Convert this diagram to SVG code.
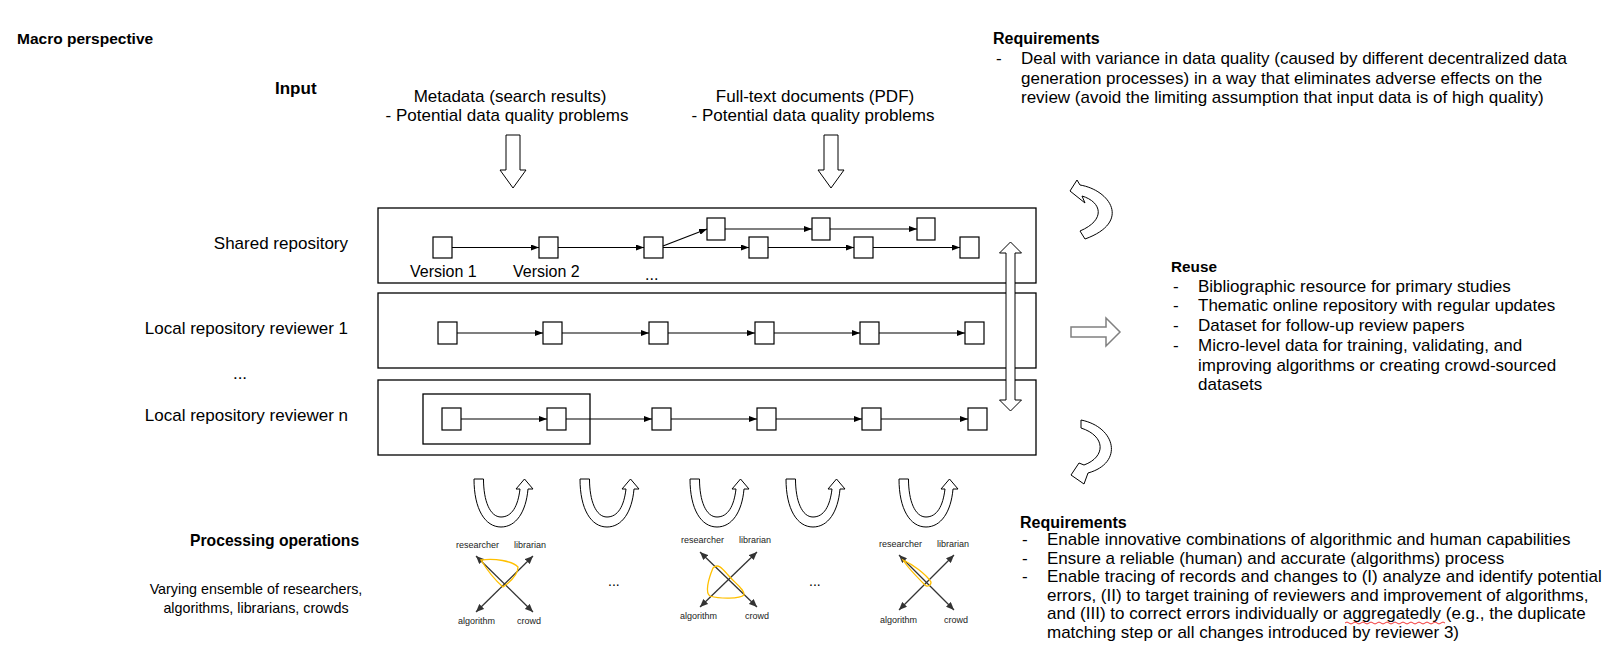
<svg xmlns="http://www.w3.org/2000/svg" xmlns:xlink="http://www.w3.org/1999/xlink" width="1620" height="657" viewBox="0 0 1620 657">
<style>
.t{font-family:"Liberation Sans",Arial,sans-serif;font-size:17px;fill:#000}
.b{font-weight:bold}
.s{font-family:"Liberation Sans",Arial,sans-serif;font-size:9px;fill:#222}
.box{fill:#fff;stroke:#000;stroke-width:1.3}
.node{fill:#fff;stroke:#000;stroke-width:1.2}
.blk{fill:#fff;stroke:#000;stroke-width:1}
.conn{stroke:#000;stroke-width:1.2;fill:none;marker-end:url(#ah)}
.x{stroke:#333;stroke-width:1.3;fill:none;marker-start:url(#xh);marker-end:url(#xh)}
.y{fill:none;stroke:#FFC000;stroke-width:1.3}
</style>
<defs>
<marker id="ah" markerUnits="userSpaceOnUse" markerWidth="8" markerHeight="6" refX="8" refY="3" orient="auto"><path d="M0,0 L8,3 L0,6 z" fill="#000"/></marker>
<marker id="xh" markerUnits="userSpaceOnUse" markerWidth="8" markerHeight="7" refX="8" refY="3.5" orient="auto-start-reverse"><path d="M0,0 L8,3.5 L0,7 z" fill="#333"/></marker>
<path id="u" class="blk" d="M0,0 L9.5,0 C9.5,22 16,38 27,38 C38,38 44,27 46,10 L42,10 L50.5,0 L59,10 L54,10 C52,33 42,48 27,48 C11,48 0,30 0,0 Z"/>
</defs>
<rect width="1620" height="657" fill="#fff"/>

<text class="t b" x="17" y="44" style="font-size:15.5px">Macro perspective</text>

<g id="input">
<text class="t b" x="275" y="94">Input</text>
<text class="t" x="510" y="102" text-anchor="middle">Metadata (search results)</text>
<text class="t" x="507" y="121" text-anchor="middle">- Potential data quality problems</text>
<text class="t" x="815" y="102" text-anchor="middle">Full-text documents (PDF)</text>
<text class="t" x="813" y="121" text-anchor="middle">- Potential data quality problems</text>
<path class="blk" d="M506,135 L520,135 L520,170 L526,170 L513,188 L500,170 L506,170 Z"/>
<path class="blk" d="M824,135 L838,135 L838,170 L844,170 L831,188 L818,170 L824,170 Z"/>
</g>

<g id="shared-repository">
<rect class="box" x="378" y="208" width="658" height="75"/>
<text class="t" x="348" y="249" text-anchor="end">Shared repository</text>
<rect class="node" x="433" y="237" width="19" height="21"/>
<rect class="node" x="539" y="237" width="19" height="21"/>
<rect class="node" x="644" y="237" width="19" height="21"/>
<rect class="node" x="749" y="237" width="19" height="21"/>
<rect class="node" x="854" y="237" width="19" height="21"/>
<rect class="node" x="960" y="237" width="19" height="21"/>
<rect class="node" x="707" y="218" width="18" height="22"/>
<rect class="node" x="812" y="218" width="18" height="22"/>
<rect class="node" x="917" y="218" width="18" height="22"/>
<text class="t" x="410" y="277" style="font-size:16px">Version 1</text>
<text class="t" x="513" y="277" style="font-size:16px">Version 2</text>
<text class="t" x="645" y="280" style="font-size:16px">...</text>
</g>

<g id="local-repository-1">
<rect class="box" x="378" y="293" width="658" height="75"/>
<text class="t" x="348" y="334" text-anchor="end">Local repository reviewer 1</text>
<rect class="node" x="438" y="322" width="19" height="22"/>
<rect class="node" x="543" y="322" width="19" height="22"/>
<rect class="node" x="649" y="322" width="19" height="22"/>
<rect class="node" x="755" y="322" width="19" height="22"/>
<rect class="node" x="860" y="322" width="19" height="22"/>
<rect class="node" x="965" y="322" width="19" height="22"/>
</g>

<text class="t" x="240" y="379" text-anchor="middle">...</text>

<g id="local-repository-n">
<rect class="box" x="378" y="380" width="658" height="75"/>
<text class="t" x="348" y="421" text-anchor="end">Local repository reviewer n</text>
<rect class="box" x="423" y="394" width="167" height="50" style="fill:none"/>
<rect class="node" x="442" y="408" width="19" height="22"/>
<rect class="node" x="547" y="408" width="19" height="22"/>
<rect class="node" x="652" y="408" width="19" height="22"/>
<rect class="node" x="757" y="408" width="19" height="22"/>
<rect class="node" x="862" y="408" width="19" height="22"/>
<rect class="node" x="968" y="408" width="19" height="22"/>
</g>

<g id="connectors">
<line class="conn" x1="452" y1="247.5" x2="539" y2="247.5"/>
<line class="conn" x1="558" y1="247.5" x2="644" y2="247.5"/>
<line class="conn" x1="663" y1="247.5" x2="749" y2="247.5"/>
<line class="conn" x1="663" y1="246" x2="707" y2="229"/>
<line class="conn" x1="725" y1="229" x2="812" y2="229"/>
<line class="conn" x1="830" y1="229" x2="917" y2="229"/>
<line class="conn" x1="768" y1="247.5" x2="854" y2="247.5"/>
<line class="conn" x1="873" y1="247.5" x2="960" y2="247.5"/>
<line class="conn" x1="457" y1="333" x2="543" y2="333"/>
<line class="conn" x1="562" y1="333" x2="649" y2="333"/>
<line class="conn" x1="668" y1="333" x2="755" y2="333"/>
<line class="conn" x1="774" y1="333" x2="860" y2="333"/>
<line class="conn" x1="879" y1="333" x2="965" y2="333"/>
<line class="conn" x1="461" y1="419" x2="547" y2="419"/>
<line class="conn" x1="566" y1="419" x2="652" y2="419"/>
<line class="conn" x1="671" y1="419" x2="757" y2="419"/>
<line class="conn" x1="776" y1="419" x2="862" y2="419"/>
<line class="conn" x1="881" y1="419" x2="968" y2="419"/>
<path class="blk" d="M1010.5,242 L1021.5,253 L1015,253 L1015,400 L1021.5,400 L1010.5,411 L999.5,400 L1006,400 L1006,253 L999.5,253 Z"/>
<path class="blk" d="M1070,191 L1077,180 L1080,185 C1110,190 1132,222 1085,239 L1080,231 C1106,220 1102,202 1082,196 L1085,203 Z"/>
<path class="blk" d="M1081,420 C1116,427 1124,463 1088,473 L1084,484 L1071,475 L1079,463 L1084,465 C1106,457 1106,436 1081,428 Z"/>
<path class="blk" style="stroke:#808080;stroke-width:1.5" d="M1071,327 L1106,327 L1106,318 L1120,332 L1106,346 L1106,337 L1071,337 Z"/>
<use xlink:href="#u" x="474" y="479"/>
<use xlink:href="#u" x="580" y="479"/>
<use xlink:href="#u" x="690" y="479"/>
<use xlink:href="#u" x="786" y="479"/>
<use xlink:href="#u" x="899" y="479"/>
</g>

<g id="requirements-top">
<text class="t b" x="993" y="44" style="font-size:16px">Requirements</text>
<text class="t" x="996" y="64">-</text>
<text class="t" x="1021" y="64">Deal with variance in data quality (caused by different decentralized data</text>
<text class="t" x="1021" y="84">generation processes) in a way that eliminates adverse effects on the</text>
<text class="t" x="1021" y="103">review (avoid the limiting assumption that input data is of high quality)</text>
</g>

<g id="reuse">
<text class="t b" x="1171" y="272" style="font-size:15.3px">Reuse</text>
<text class="t" x="1173" y="292">-</text>
<text class="t" x="1173" y="311">-</text>
<text class="t" x="1173" y="331">-</text>
<text class="t" x="1173" y="351">-</text>
<text class="t" x="1198" y="292">Bibliographic resource for primary studies</text>
<text class="t" x="1198" y="311">Thematic online repository with regular updates</text>
<text class="t" x="1198" y="331">Dataset for follow-up review papers</text>
<text class="t" x="1198" y="351">Micro-level data for training, validating, and</text>
<text class="t" x="1198" y="371">improving algorithms or creating crowd-sourced</text>
<text class="t" x="1198" y="390">datasets</text>
</g>

<g id="processing">
<text class="t b" x="190" y="546" style="font-size:15.7px">Processing operations</text>
<text class="t" x="256" y="594" text-anchor="middle" style="font-size:14.3px">Varying ensemble of researchers,</text>
<text class="t" x="256" y="613" text-anchor="middle" style="font-size:14.3px">algorithms, librarians, crowds</text>
</g>

<g id="ensemble-1">
<line class="x" x1="476" y1="556" x2="533" y2="612"/>
<line class="x" x1="533" y1="556" x2="476" y2="612"/>
<path class="y" d="M481,560 C495,558 512,561 518,567 C518,574 510,582 503,587 C495,580 487,570 481,560 Z"/>
<text class="s" x="456" y="548">researcher</text>
<text class="s" x="514" y="548">librarian</text>
<text class="s" x="458" y="624">algorithm</text>
<text class="s" x="517" y="624">crowd</text>
</g>
<text class="t" x="608" y="586" style="font-size:14px">...</text>

<g id="ensemble-2">
<line class="x" x1="700" y1="552" x2="757" y2="607"/>
<line class="x" x1="757" y1="552" x2="700" y2="607"/>
<path class="y" d="M713,568 C718,563 722,568 728,575 C736,584 745,590 744,595 C740,599 720,599 710,596 C705,593 708,580 713,568 Z"/>
<text class="s" x="681" y="543">researcher</text>
<text class="s" x="739" y="543">librarian</text>
<text class="s" x="680" y="619">algorithm</text>
<text class="s" x="745" y="619">crowd</text>
</g>
<text class="t" x="809" y="586" style="font-size:14px">...</text>

<g id="ensemble-3">
<line class="x" x1="899" y1="555" x2="954" y2="610"/>
<line class="x" x1="954" y1="555" x2="899" y2="610"/>
<path class="y" d="M903,560 C912,564 926,574 931,582 C931,586 927,587 925,585 C918,578 908,568 903,560 Z"/>
<text class="s" x="879" y="547">researcher</text>
<text class="s" x="937" y="547">librarian</text>
<text class="s" x="880" y="623">algorithm</text>
<text class="s" x="944" y="623">crowd</text>
</g>

<g id="requirements-bottom">
<text class="t b" x="1020" y="528" style="font-size:16px">Requirements</text>
<text class="t" x="1022" y="545">-</text>
<text class="t" x="1022" y="563.5">-</text>
<text class="t" x="1022" y="582">-</text>
<text class="t" x="1047" y="545">Enable innovative combinations of algorithmic and human capabilities</text>
<text class="t" x="1047" y="563.5">Ensure a reliable (human) and accurate (algorithms) process</text>
<text class="t" x="1047" y="582">Enable tracing of records and changes to (I) analyze and identify potential</text>
<text class="t" x="1047" y="600.5">errors, (II) to target training of reviewers and improvement of algorithms,</text>
<text class="t" x="1047" y="619">and (III) to correct errors individually or aggregatedly (e.g., the duplicate</text>
<text class="t" x="1047" y="637.5">matching step or all changes introduced by reviewer 3)</text>
<path d="M1345,623 q2,-2 4,0 t4,0 t4,0 t4,0 t4,0 t4,0 t4,0 t4,0 t4,0 t4,0 t4,0 t4,0 t4,0 t4,0 t4,0 t4,0 t4,0 t4,0 t4,0 t4,0 t4,0 t4,0 t4,0 t4,0 t4,0" fill="none" stroke="#e00" stroke-width="0.8"/>
</g>
</svg>
